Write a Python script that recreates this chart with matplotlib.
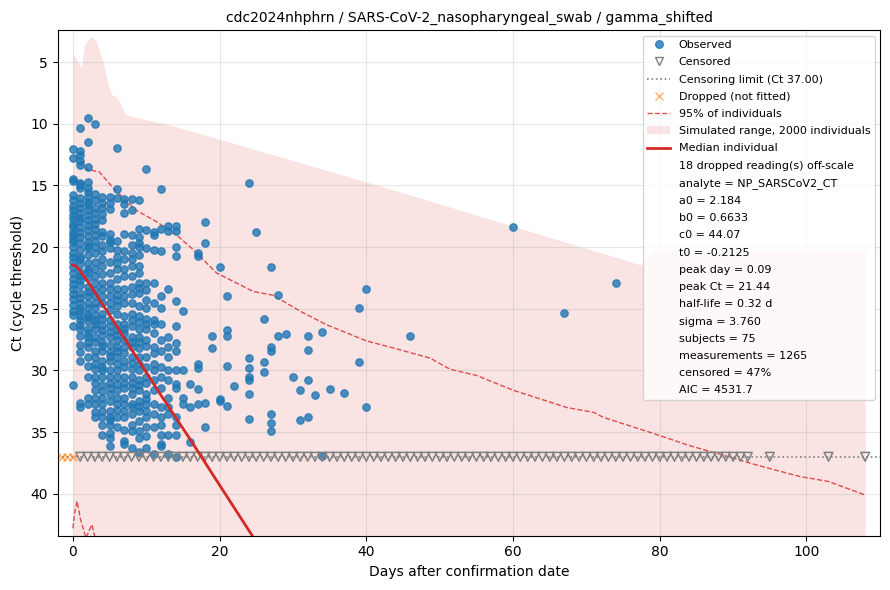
import matplotlib
matplotlib.use("Agg")
import matplotlib.pyplot as plt
from matplotlib.lines import Line2D
from matplotlib.patches import Patch

# Observed Ct values, one list per day column
obs_days = [0, 1, 2, 3, 4, 5, 6, 7, 8, 9, 10, 11, 12, 13, 14, 15, 16, 17, 18, 19, 20,
            21, 22, 24, 25, 26, 27, 28, 29, 30, 31, 32, 33, 34, 35, 37, 39, 40, 46, 60, 67, 74]
obs_cts = [
    [12.05, 12.8, 14.5, 14.65, 15.8, 16.2, 16.7, 17.0, 17.4, 17.7, 18.1, 18.4, 18.8, 19.0, 19.3,
     19.6, 20.0, 20.5, 20.8, 21.2, 21.6, 22.1, 22.6, 23.0, 23.4, 23.8, 24.2, 24.7, 25.2, 25.5,
     26.4, 31.2],
    [10.3, 12.2, 12.5, 13.0, 13.3, 14.8, 15.0, 15.2, 16.0, 16.4, 16.8, 17.2, 17.6, 17.9, 18.4,
     18.8, 19.2, 19.7, 20.2, 20.8, 21.0, 21.4, 22.0, 22.3, 22.7, 23.1, 23.7, 24.1, 24.5, 24.9,
     25.2, 25.6, 25.9, 26.3, 26.6, 27.2, 27.9, 28.5, 29.2, 32.6, 33.0],
    [9.5, 11.5, 13.5, 14.7, 15.2, 15.5, 15.9, 16.3, 16.6, 17.0, 17.4, 17.8, 18.2, 18.6, 19.1,
     19.6, 19.9, 20.1, 20.6, 21.3, 21.8, 22.0, 22.5, 23.2, 23.6, 24.0, 24.5, 24.9, 25.4, 25.7,
     26.0, 26.6, 27.0, 27.3, 27.7, 28.1, 28.9, 29.6, 30.5, 32.2, 32.7],
    [10.0, 15.7, 16.2, 16.8, 17.2, 17.7, 18.1, 18.5, 19.0, 19.5, 20.0, 20.5, 21.2, 21.8, 22.3,
     22.9, 23.5, 24.0, 24.5, 24.9, 25.5, 25.9, 26.2, 26.6, 27.3, 27.7, 28.4, 28.9, 29.5, 29.9,
     30.5, 31.0, 31.6, 32.2, 32.7, 33.4, 33.8],
    [15.9, 16.4, 16.8, 17.3, 17.8, 18.8, 19.1, 19.8, 20.3, 21.0, 21.5, 22.2, 22.9, 23.4, 24.0,
     24.5, 25.4, 25.8, 26.3, 26.7, 27.1, 27.7, 28.0, 28.4, 29.2, 29.7, 30.0, 30.5, 31.2, 31.7,
     32.2, 32.7, 33.3, 33.8, 34.4, 35.2],
    [15.9, 16.4, 16.9, 18.9, 19.4, 19.6, 20.1, 21.2, 22.1, 22.9, 23.4, 24.0, 24.5, 25.1, 25.9,
     26.4, 26.9, 27.3, 27.9, 28.5, 28.8, 29.2, 30.0, 30.5, 31.0, 31.4, 31.9, 32.5, 33.3, 33.8,
     34.0, 34.4, 35.1, 35.5, 36.1],
    [12.0, 15.25, 16.0, 19.5, 20.2, 20.8, 21.3, 21.8, 22.6, 23.4, 23.9, 24.3, 24.8, 25.4, 26.2,
     26.7, 27.1, 27.5, 28.1, 28.4, 28.9, 29.5, 30.0, 30.5, 31.1, 31.6, 32.2, 32.7, 33.2, 33.8,
     34.6],
    [16.1, 16.5, 17.2, 18.9, 20.3, 21.0, 21.8, 22.35, 23.4, 24.0, 24.5, 25.6, 26.2, 26.6, 27.0,
     27.5, 28.1, 28.6, 29.2, 29.7, 30.5, 31.0, 31.4, 32.2, 32.7, 33.3, 33.8, 34.8, 35.7, 36.0],
    [16.1, 17.0, 19.0, 19.8, 20.5, 21.0, 21.5, 22.35, 23.2, 23.8, 24.5, 25.4, 25.9, 26.4, 27.3,
     27.7, 28.1, 28.9, 29.4, 29.9, 30.5, 31.0, 31.4, 31.9, 32.7, 33.0, 33.5, 34.4, 34.9, 36.3],
    [16.2, 18.5, 19.2, 19.7, 20.0, 20.6, 21.5, 22.1, 22.9, 23.3, 23.7, 24.8, 25.6, 26.1, 26.6,
     27.3, 27.7, 28.2, 28.9, 29.5, 30.0, 30.8, 31.2, 31.6, 32.5, 32.9, 33.3, 34.1, 34.9, 35.5,
     36.6],
    [13.7, 18.6, 20.1, 22.9, 23.5, 24.3, 24.9, 25.8, 26.2, 26.6, 27.5, 28.0, 28.9, 29.7, 30.5,
     31.0, 31.9, 32.3, 32.7, 33.3, 33.8, 34.6, 35.3, 36.3],
    [18.8, 19.0, 20.2, 22.9, 24.5, 25.9, 26.2, 27.0, 28.1, 28.6, 29.5, 30.0, 30.8, 31.6, 32.7,
     33.5, 34.6, 36.8],
    [15.25, 18.5, 20.3, 24.0, 24.9, 26.2, 27.5, 28.4, 29.7, 30.5, 31.4, 33.0, 33.8, 34.4, 35.2,
     36.0, 36.1],
    [18.3, 18.7, 23.4, 27.3, 28.1, 28.9, 30.0, 30.8, 32.2, 33.0, 33.5, 35.2, 36.8],
    [18.3, 18.7, 20.0, 20.7, 24.4, 26.4, 27.8, 28.4, 30.0, 31.1, 31.4, 33.8, 34.4, 35.2, 37.0],
    [25.2, 30.0, 32.2, 32.7],
    [31.1, 33.0, 35.8],
    [20.5, 20.7, 29.5, 29.8, 31.5, 32.7],
    [18.0, 19.7, 32.6, 34.6],
    [27.2, 28.2],
    [21.6, 32.3, 32.5],
    [24.0, 26.7, 27.2, 29.6, 32.9],
    [31.3],
    [14.8, 29.0, 29.8, 30.5, 30.8, 31.9, 33.9],
    [18.8],
    [25.8, 29.3, 30.1],
    [21.6, 28.1, 28.4, 33.5, 34.3, 34.9],
    [23.9, 27.2],
    [27.05],
    [30.5],
    [31.6, 34.0],
    [27.2, 28.3, 30.8, 33.8],
    [32.0],
    [26.9, 36.9],
    [31.5],
    [31.8],
    [24.9, 29.3],
    [23.4, 33.0],
    [27.2],
    [18.4],
    [25.3],
    [22.9],
]

# Censored readings (plotted at the limit) and dropped readings
censor_limit = 37.0
censored_days = list(range(1, 93)) + [95, 103, 108]
dropped_days = [-1.5, -0.75, 0.0]

# Simulated range band (upper edge = low Ct); lower edge runs off-scale
band_day = [0.0, 1.15, 1.6, 2.45, 3.2, 4.1, 4.8, 5.3, 5.9, 6.5, 7.1, 13.9, 31.0, 44.5, 60.0, 77.4, 79.0, 108.0]
band_top = [4.26, 5.48, 3.59, 2.91, 3.31, 4.94, 6.83, 7.64, 7.77, 8.31, 9.26, 10.2, 13.15, 15.5, 18.3, 21.44, 20.3, 20.3]
band_bottom = [48.0] * len(band_day)

# 95% of individuals, lower-Ct edge
q_hi_day = [0.3, 1.05, 2.0, 3.6, 5.5, 8.6, 11.3, 14.1, 16.4, 19.6, 24.6, 27.3, 31.0, 34.6, 40.0,
            43.2, 48.7, 51.4, 55.0, 60.0, 67.3, 71.0, 72.3, 79.1, 84.1, 90.0, 92.8, 99.1, 103.0, 108.0]
q_hi_ct = [12.65, 12.9, 13.7, 13.9, 15.2, 17.0, 17.9, 19.0, 20.2, 22.1, 23.6, 23.9, 25.2, 26.3, 27.6,
           28.1, 29.0, 29.9, 30.4, 31.6, 33.0, 33.4, 33.8, 35.1, 36.1, 37.1, 37.6, 38.6, 39.0, 40.1]
# 95% of individuals, high-Ct edge (mostly off-scale)
q_lo_day = [0.0, 0.25, 0.55, 0.8, 1.05, 1.4, 1.8, 2.2, 2.6, 3.0, 3.4]
q_lo_ct = [42.8, 41.5, 40.6, 41.3, 42.1, 42.8, 43.6, 43.0, 42.5, 43.5, 45.0]

# Median individual
med_day = [0, 0.09, 0.5, 1, 2, 4, 8, 12, 16, 20, 25, 27]
med_ct = [21.46, 21.44, 21.6, 21.95, 22.75, 24.6, 28.3, 32.0, 35.6, 39.3, 43.9, 45.7]

info_lines = [
    "18 dropped reading(s) off-scale",
    "analyte = NP_SARSCoV2_CT",
    "a0 = 2.184",
    "b0 = 0.6633",
    "c0 = 44.07",
    "t0 = -0.2125",
    "peak day = 0.09",
    "peak Ct = 21.44",
    "half-life = 0.32 d",
    "sigma = 3.760",
    "subjects = 75",
    "measurements = 1265",
    "censored = 47%",
    "AIC = 4531.7",
]

obs_x = []
obs_y = []
for d, cts in zip(obs_days, obs_cts):
    for c in cts:
        obs_x.append(d)
        obs_y.append(c)

fig, ax = plt.subplots(figsize=(8.9, 5.9), dpi=100)

ax.fill_between(band_day, band_top, band_bottom, color="#d62728", alpha=0.13, linewidth=0)
ax.plot(q_hi_day, q_hi_ct, "--", color="#d62728", alpha=0.8, lw=1)
ax.plot(q_lo_day, q_lo_ct, "--", color="#d62728", alpha=0.8, lw=1)
ax.axhline(censor_limit, color="gray", ls=":", lw=1.2)
ax.scatter(obs_x, obs_y, s=28, color="#1f77b4", alpha=0.8, zorder=3)
ax.scatter(censored_days, [censor_limit] * len(censored_days), marker="v", s=40,
           facecolors="none", edgecolors="gray", lw=1.1, zorder=3)
ax.scatter(dropped_days, [censor_limit] * len(dropped_days), marker="x", s=30,
           color="#ff7f0e", alpha=0.6, lw=1.3, zorder=3)
ax.plot(med_day, med_ct, color="#d62728", lw=2, zorder=4)

ax.set_xlim(-2.05, 110.05)
ax.set_ylim(43.4, 2.4)
ax.set_xticks([0, 20, 40, 60, 80, 100])
ax.set_yticks([5, 10, 15, 20, 25, 30, 35, 40])
ax.grid(True, alpha=0.3)
ax.set_xlabel("Days after confirmation date")
ax.set_ylabel("Ct (cycle threshold)")
ax.set_title("cdc2024nhphrn / SARS-CoV-2_nasopharyngeal_swab / gamma_shifted", fontsize=10)

handles = [
    Line2D([], [], ls="none", marker="o", markersize=5.5, color="#1f77b4", alpha=0.8, label="Observed"),
    Line2D([], [], ls="none", marker="v", markersize=6, markerfacecolor="none",
           markeredgecolor="gray", label="Censored"),
    Line2D([], [], color="gray", ls=":", lw=1.2, label="Censoring limit (Ct 37.00)"),
    Line2D([], [], ls="none", marker="x", markersize=5.5, color="#ff7f0e", alpha=0.6, label="Dropped (not fitted)"),
    Line2D([], [], color="#d62728", ls="--", alpha=0.8, lw=1, label="95% of individuals"),
    Patch(facecolor="#d62728", alpha=0.13, label="Simulated range, 2000 individuals"),
    Line2D([], [], color="#d62728", lw=2, label="Median individual"),
]
for t in info_lines:
    handles.append(Line2D([], [], color="none", label=t))
ax.legend(handles=handles, loc="upper right", fontsize=8, labelspacing=0.65)

plt.subplots_adjust(left=0.065, right=0.989, top=0.949, bottom=0.092)
plt.savefig("out.png")
